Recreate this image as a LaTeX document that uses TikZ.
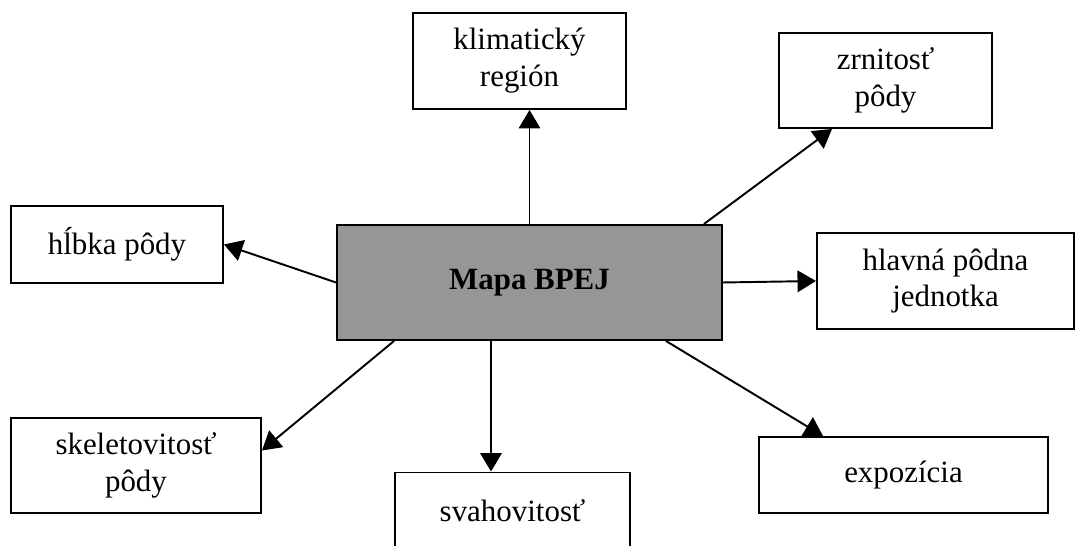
\documentclass[tikz,border=0pt]{standalone}
\usepackage{fontspec}
\setmainfont{Liberation Serif}
\usetikzlibrary{arrows.meta}
\definecolor{mapgray}{RGB}{150,150,150}
\begin{document}
\begin{tikzpicture}[
    box/.style = {rectangle, draw, line width=1.1pt, fill=white, inner sep=0pt, align=center, font=\fontsize{17.6}{21}\selectfont},
    mainbox/.style = {box, fill=mapgray, font=\fontsize{17.6}{21}\selectfont\bfseries},
    arrow/.style = {draw, line width=1.1pt, -{Triangle[length=0.37cm, width=0.43cm]}}
]
    \clip (0, 0) rectangle (21.5, 10.92);

    \node[mainbox, minimum width=7.70cm, minimum height=2.30cm] (map) at (10.59, 5.27) {Mapa BPEJ};

    \node[box, minimum width=4.26cm, minimum height=1.92cm] (klim) at (10.39, 9.70) {klimatický\\región};
    \node[box, minimum width=4.26cm, minimum height=1.90cm] (zrn) at (17.71, 9.31) {zrnitosť\\pôdy};
    \node[box, minimum width=4.24cm, minimum height=1.54cm] (hlbka) at (2.34, 6.03) {hĺbka pôdy};
    \node[box, minimum width=5.14cm, minimum height=1.92cm] (hlavna) at (18.91, 5.30) {hlavná pôdna\\jednotka};
    \node[box, minimum width=5.00cm, minimum height=1.90cm] (skel) at (2.72, 1.61) {skeletovitosť\\pôdy};
    \node[box, minimum width=4.70cm, minimum height=1.54cm] (svah) at (10.25, 0.70) {svahovitosť};
    \node[box, minimum width=5.78cm, minimum height=1.52cm] (expo) at (18.07, 1.42) {expozícia};

    \coordinate (svahin) at ([xshift=-0.43cm]svah.north);

    \path[arrow] (map.north) -- (map.north |- klim.south);
    \path[arrow] ([xshift=-0.38cm]map.north east) -- ([xshift=1.08cm]zrn.south west);
    \path[arrow] (map.west) -- (hlbka.east);
    \path[arrow] (map.east) -- (hlavna.west);
    \path[arrow] ([xshift=1.16cm]map.south west) -- ([yshift=0.3cm]skel.east);
    \path[arrow] (svahin |- map.south) -- (svahin);
    \path[arrow] ([xshift=-1.14cm]map.south east) -- ([xshift=1.3cm]expo.north west);
\end{tikzpicture}
\end{document}
